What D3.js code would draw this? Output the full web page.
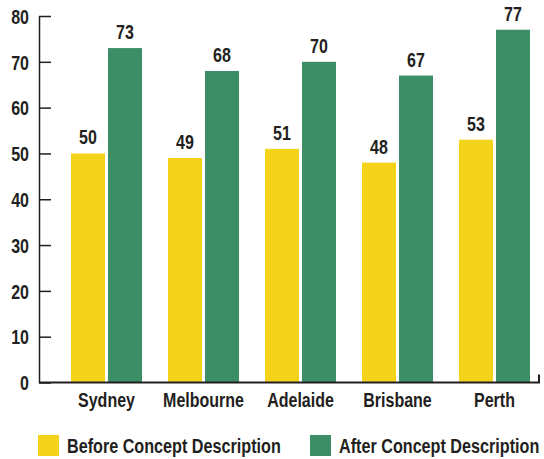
<!DOCTYPE html>
<html>
<head>
<meta charset="utf-8">
<script src="https://cdn.jsdelivr.net/npm/d3@7"></script>
<style>
  body { margin: 0; background: #fff; }
  text { font-family: "Liberation Sans", Arial, sans-serif; font-weight: bold; fill: #231f20; }
</style>
</head>
<body>
<script>
// chart data
const cities = ['Sydney', 'Melbourne', 'Adelaide', 'Brisbane', 'Perth'];
const seriesNames = ['Before Concept Description', 'After Concept Description'];
const beforeValues = [50, 49, 51, 48, 53];
const afterValues = [73, 68, 70, 67, 77];
const yTicks = [0, 10, 20, 30, 40, 50, 60, 70, 80];
const colors = ['#f4d31b', '#3c8e67'];

const W = 544, H = 459;
const plot = { left: 39, right: 539, top: 16, bottom: 382.5 };
const squeeze = 0.8; // the original uses a condensed face

const svg = d3.select('body').append('svg')
    .attr('width', W)
    .attr('height', H);

const x = d3.scaleBand()
    .domain(cities)
    .range([71, 530])
    .paddingInner(0.268)
    .paddingOuter(0);

const xInner = d3.scaleBand()
    .domain(seriesNames)
    .range([0, x.bandwidth()])
    .paddingInner(0.081);

const y = d3.scaleLinear()
    .domain([0, 80])
    .range([plot.bottom, plot.top]);

const rows = cities.map((c, i) => ({ city: c, values: [beforeValues[i], afterValues[i]] }));

// bars
const groups = svg.selectAll('g.city')
    .data(rows)
    .enter()
    .append('g')
    .attr('class', 'city')
    .attr('transform', d => `translate(${x(d.city)},0)`);

groups.selectAll('rect')
    .data(d => d.values.map((v, k) => ({ key: seriesNames[k], value: v, k })))
    .enter()
    .append('rect')
    .attr('x', d => xInner(d.key))
    .attr('y', d => y(d.value))
    .attr('width', xInner.bandwidth())
    .attr('height', d => y(0) - y(d.value))
    .attr('fill', d => colors[d.k]);

groups.selectAll('text.val')
    .data(d => d.values.map((v, k) => ({ key: seriesNames[k], value: v })))
    .enter()
    .append('text')
    .attr('class', 'val')
    .attr('transform', d => `translate(${xInner(d.key) + xInner.bandwidth() / 2},${y(d.value) - 9}) scale(${squeeze},1)`)
    .attr('text-anchor', 'middle')
    .style('font-size', '20px')
    .text(d => d.value);

// y axis
const yAxis = svg.append('g')
    .attr('transform', `translate(${plot.left},0)`)
    .call(d3.axisLeft(y).tickValues(yTicks).tickSizeInner(-12).tickSizeOuter(0));
yAxis.select('.domain').attr('stroke', '#231f20').attr('stroke-width', 1.5);
yAxis.selectAll('.tick line').attr('stroke', '#231f20').attr('stroke-width', 1.5);
yAxis.selectAll('.tick text')
    .attr('x', -10 / squeeze)
    .attr('dy', '0.36em')
    .attr('transform', `scale(${squeeze},1)`)
    .style('font-size', '20px');

// x axis
const xAxis = svg.append('g')
    .attr('transform', `translate(0,${plot.bottom})`)
    .call(d3.axisBottom(x).tickSize(0));
xAxis.select('.domain').remove();
xAxis.selectAll('.tick text')
    .attr('y', 24.5)
    .attr('dy', 0)
    .attr('transform', `scale(${squeeze},1)`)
    .style('font-size', '20px');
xAxis.append('path')
    .attr('d', `M${plot.left},0H${plot.right}V-8`)
    .attr('fill', 'none')
    .attr('stroke', '#231f20')
    .attr('stroke-width', 2);

// legend
const legendX = [38, 310];
const legend = svg.append('g')
    .attr('transform', 'translate(0,435)');
seriesNames.forEach((name, k) => {
    legend.append('rect')
        .attr('x', legendX[k])
        .attr('y', 0)
        .attr('width', 21)
        .attr('height', 21)
        .attr('fill', colors[k]);
    legend.append('text')
        .attr('transform', `translate(${legendX[k] + 29},17.5) scale(0.77,1)`)
        .style('font-size', '21px')
        .text(name);
});
</script>
</body>
</html>
